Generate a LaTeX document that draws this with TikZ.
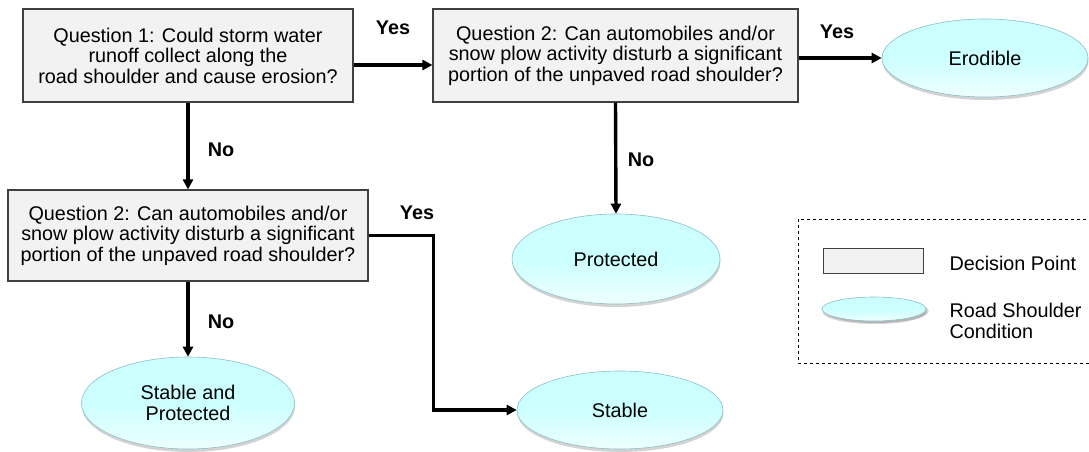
\documentclass[tikz,border=0pt]{standalone}
\usepackage{fontspec}
\setmainfont{Liberation Sans}
\usetikzlibrary{arrows.meta,shadows,shapes.geometric}
\definecolor{boxgray}{RGB}{242,242,242}
\definecolor{boxline}{RGB}{64,64,64}
\definecolor{cyanfill}{RGB}{204,255,255}
\definecolor{cyanline}{RGB}{140,190,195}
\begin{document}
\begin{tikzpicture}[x=1pt,y=-1pt,
	font=\fontsize{19.8}{20.5}\selectfont,
	question/.style={draw=boxline, line width=1.1pt, fill=boxgray, align=center, inner sep=0pt},
	condition/.style={ellipse, draw=cyanline, line width=0.6pt, top color=cyanfill, bottom color=cyanfill!35!white, middle color=cyanfill, align=center, inner sep=0pt, drop shadow={opacity=0.35, shadow xshift=0.5pt, shadow yshift=-3pt, fill=gray}},
	flow/.style={line width=3.4pt, -{Triangle[length=10pt,width=10pt]}},
	answer/.style={font=\fontsize{19.8}{20.5}\selectfont\bfseries}]
	\useasboundingbox (0,0) rectangle (1089,452);
	% Decision points
	\node[question, minimum width=330, minimum height=93] (qone)  at (188,55.5)  {Question 1: Could storm water\\runoff collect along the\\road shoulder and cause erosion?};
	\node[question, minimum width=365, minimum height=93] (qtwoa) at (615.5,55.5) {Question 2: Can automobiles and/or\\snow plow activity disturb a significant\\portion of the unpaved road shoulder?};
	\node[question, minimum width=360, minimum height=91] (qtwob) at (188,235.5) {Question 2: Can automobiles and/or\\snow plow activity disturb a significant\\portion of the unpaved road shoulder?};
	% Road shoulder conditions
	\node[condition, minimum width=206, minimum height=78] (erod) at (985,58)  {Erodible};
	\node[condition, minimum width=208, minimum height=90] (prot) at (616,259) {Protected};
	\node[condition, minimum width=206, minimum height=78] (stab) at (620,410) {Stable};
	\node[condition, minimum width=213, minimum height=92] (stpr) at (188,403) {Stable and\\Protected};
	% Connectors
	\draw[flow] ([yshift=-9.5pt]qone.east) -- ([yshift=-9.5pt]qtwoa.west);
	\draw[flow] ([yshift=-2.5pt]qtwoa.east) -- (erod.west);
	\draw[flow] (qone.south) -- (qtwob.north);
	\draw[flow] (qtwoa.south) -- (prot.north);
	\draw[flow] (qtwob.south) -- (stpr.north);
	\draw[flow] (qtwob.east) -- ++(65,0) |- (stab.west);
	% Yes and No
	\node[answer] (yone)   at (393,28)  {Yes};
	\node[answer] (ytwo)   at (837,32)  {Yes};
	\node[answer] (ythree) at (417,213) {Yes};
	\node[answer] (none)   at (221,150) {No};
	\node[answer] (ntwo)   at (641,160) {No};
	\node[answer] (nthree) at (221,322) {No};
	% Legend
	\draw[dashed, line width=0.7pt] (798,219) rectangle (1095,363);
	\node[question, line width=0.8pt, minimum width=100, minimum height=25] (keybox) at (873,260.5) {};
	\node[condition, minimum width=104, minimum height=24, drop shadow={opacity=0.35, shadow yshift=-2pt, fill=gray}] (keyell) at (874,309) {};
	\node[anchor=west] (keyboxtext) at (946,263) {Decision Point};
	\node[anchor=west, align=left] (keyelltext) at (946,321) {Road Shoulder\\Condition};
\end{tikzpicture}
\end{document}
